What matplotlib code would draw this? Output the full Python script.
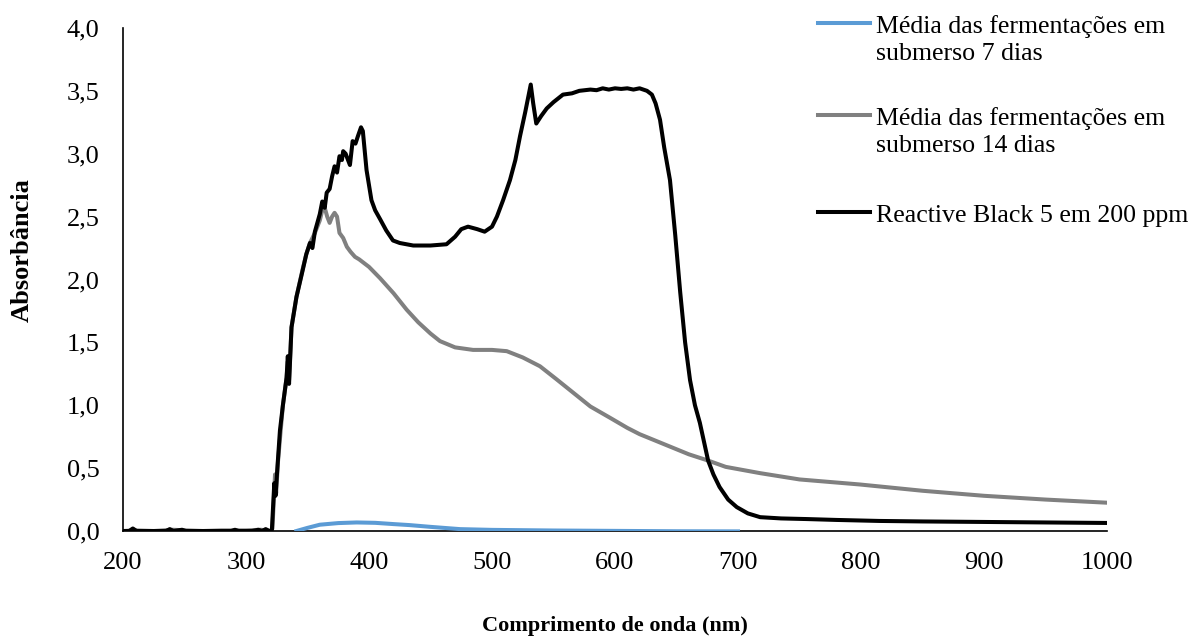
import matplotlib
matplotlib.use('Agg')
import matplotlib.pyplot as plt
from matplotlib.lines import Line2D
from matplotlib.ticker import FuncFormatter, MultipleLocator


plt.rcParams['font.family'] = ['Liberation Serif', 'DejaVu Serif']

# Reactive Black 5, 200 ppm
wl_rb5 = [200, 205, 208, 211, 220, 235, 238, 241, 248, 251, 270, 288, 291, 294,
          305, 310, 313, 316, 319, 321, 323, 324, 325.5, 327.6, 330, 333, 334, 335,
          337, 341, 346, 349, 352, 354, 356, 360, 362, 364, 365.6, 368, 370, 372,
          374, 376, 378, 379, 381, 384.5, 386.7, 389, 391, 393.5, 395, 398, 400,
          402, 405, 409, 414, 419.5, 425, 436, 450, 463, 470, 475, 480.5, 488, 494,
          500, 504, 509, 514.6, 519, 522.8, 527, 531.5, 533.5, 536, 540, 544.5, 550,
          557.7, 565, 571, 580, 585, 590, 595, 600, 605, 610, 615, 620, 626, 630,
          633, 636.6, 640, 644.7, 649, 653, 657, 661, 665, 669, 675.7, 680, 685,
          692, 699, 708, 718, 735, 756, 780, 815, 850, 900, 950, 1000]
abs_rb5 = [0.0, 0.0, 0.02, 0.0, 0.0, 0.0, 0.015, 0.0, 0.01, 0.0, 0.0, 0.0, 0.01, 0.0,
           0.0, 0.01, 0.0, 0.015, 0.0, 0.0, 0.38, 0.28, 0.5, 0.8, 1.0, 1.22, 1.39, 1.17,
           1.62, 1.86, 2.07, 2.2, 2.29, 2.25, 2.38, 2.52, 2.62, 2.57, 2.69, 2.72, 2.82, 2.9,
           2.85, 2.98, 2.95, 3.02, 3.0, 2.91, 3.1, 3.08, 3.14, 3.21, 3.18, 2.87, 2.75,
           2.63, 2.55, 2.48, 2.39, 2.31, 2.29, 2.27, 2.27, 2.28, 2.34, 2.4, 2.42, 2.4, 2.38,
           2.42, 2.5, 2.63, 2.79, 2.95, 3.14, 3.33, 3.55, 3.4, 3.24, 3.3, 3.36, 3.41,
           3.47, 3.48, 3.5, 3.51, 3.505, 3.52, 3.51, 3.52, 3.515, 3.52, 3.51, 3.52, 3.5, 3.47,
           3.4, 3.27, 3.05, 2.79, 2.35, 1.9, 1.5, 1.2, 1.0, 0.86, 0.56, 0.45, 0.35,
           0.25, 0.19, 0.14, 0.11, 0.1, 0.095, 0.088, 0.08, 0.076, 0.072, 0.068, 0.064]

# fermentacao submersa, 14 dias
wl_14d = [200, 210, 225, 240, 252, 265, 280, 300, 312, 320, 321.5, 323.6, 324.5, 326,
          330, 333, 334, 335, 337, 341, 346, 349, 352, 356, 360, 362, 364, 366, 368,
          370, 372, 374, 376, 379, 382, 385, 388.6, 392, 396, 400, 409, 420, 430.6,
          440, 450, 457.7, 470, 484.6, 500, 512, 525, 539, 552, 566, 580, 596, 610,
          620, 640, 660, 675.7, 690, 718, 750, 799, 850, 900, 950, 1000]
abs_14d = [0.0, 0.005, 0.0, 0.01, 0.005, 0.0, 0.005, 0.005, 0.01, 0.0, 0.02, 0.45, 0.3, 0.55,
           1.0, 1.22, 1.35, 1.2, 1.62, 1.86, 2.08, 2.2, 2.29, 2.37, 2.47, 2.55, 2.57, 2.5, 2.45,
           2.5, 2.53, 2.5, 2.37, 2.33, 2.26, 2.22, 2.18, 2.16, 2.13, 2.1, 2.01, 1.89, 1.76,
           1.66, 1.57, 1.51, 1.46, 1.44, 1.44, 1.43, 1.38, 1.31, 1.21, 1.1, 0.99, 0.9, 0.82,
           0.77, 0.69, 0.61, 0.56, 0.51, 0.46, 0.41, 0.37, 0.32, 0.28, 0.25, 0.225]

# fermentacao submersa, 7 dias
wl_7d = [341, 350, 360, 375, 390, 405, 420, 433, 450, 474, 500, 550, 600, 650, 700]
abs_7d = [0.0, 0.025, 0.05, 0.063, 0.068, 0.065, 0.055, 0.047, 0.033, 0.015, 0.009,
          0.004, 0.001, -0.002, -0.003]

labels = [['Média das fermentações em', 'submerso 7 dias'],
          ['Média das fermentações em', 'submerso 14 dias'],
          ['Reactive Black 5 em 200 ppm']]
cores = ['#5B9BD5', '#808080', '#000000']

FS = 19
LW = 2.9


fig = plt.figure(figsize=(12, 6.38), dpi=100)
ax = fig.add_axes([0.1025, 0.1677, 0.82, 0.7885])

ax.plot(wl_7d, abs_7d, color=cores[0], lw=LW, solid_joinstyle='round', zorder=3)
ax.plot(wl_14d, abs_14d, color=cores[1], lw=LW, solid_joinstyle='round', zorder=4)
ax.plot(wl_rb5, abs_rb5, color=cores[2], lw=LW, solid_joinstyle='round', zorder=5)

ax.set_xlim(200, 1000)
ax.set_ylim(0, 4.0)
ax.xaxis.set_major_locator(MultipleLocator(100))
ax.yaxis.set_major_locator(MultipleLocator(0.5))
ax.yaxis.set_major_formatter(FuncFormatter(lambda v, p: f'{v:.1f}'.replace('.', ',')))
ax.tick_params(length=0, labelsize=FS)
ax.tick_params(axis='y', pad=17)
ax.tick_params(axis='x', pad=15)

for s in ['top', 'right']:
    ax.spines[s].set_visible(False)
for s in ['left', 'bottom']:
    ax.spines[s].set_linewidth(1.2)
    ax.spines[s].set_zorder(2)

# titulos dos eixos
fig.text(0.5125, 1 - 626 / 638, 'Comprimento de onda (nm)', ha='center', va='center',
         fontsize=16, fontweight='bold')
fig.text(22 / 1200, 1 - 250 / 638, 'Absorbância', ha='center', va='center',
         rotation=90, fontsize=FS, fontweight='bold')

# legenda
ys = [23, 115, 212]
for lab, c, y in zip(labels, cores, ys):
    yf = 1 - y / 638
    fig.add_artist(Line2D([818 / 1200, 870 / 1200], [yf, yf], color=c, lw=LW,
                          transform=fig.transFigure))
    for k, linha in enumerate(lab):
        fig.text(876 / 1200, 1 - (y + 10 + 27 * k) / 638, linha, ha='left',
                 va='baseline', fontsize=FS - 0.4)

plt.savefig('out.png', dpi=100)
